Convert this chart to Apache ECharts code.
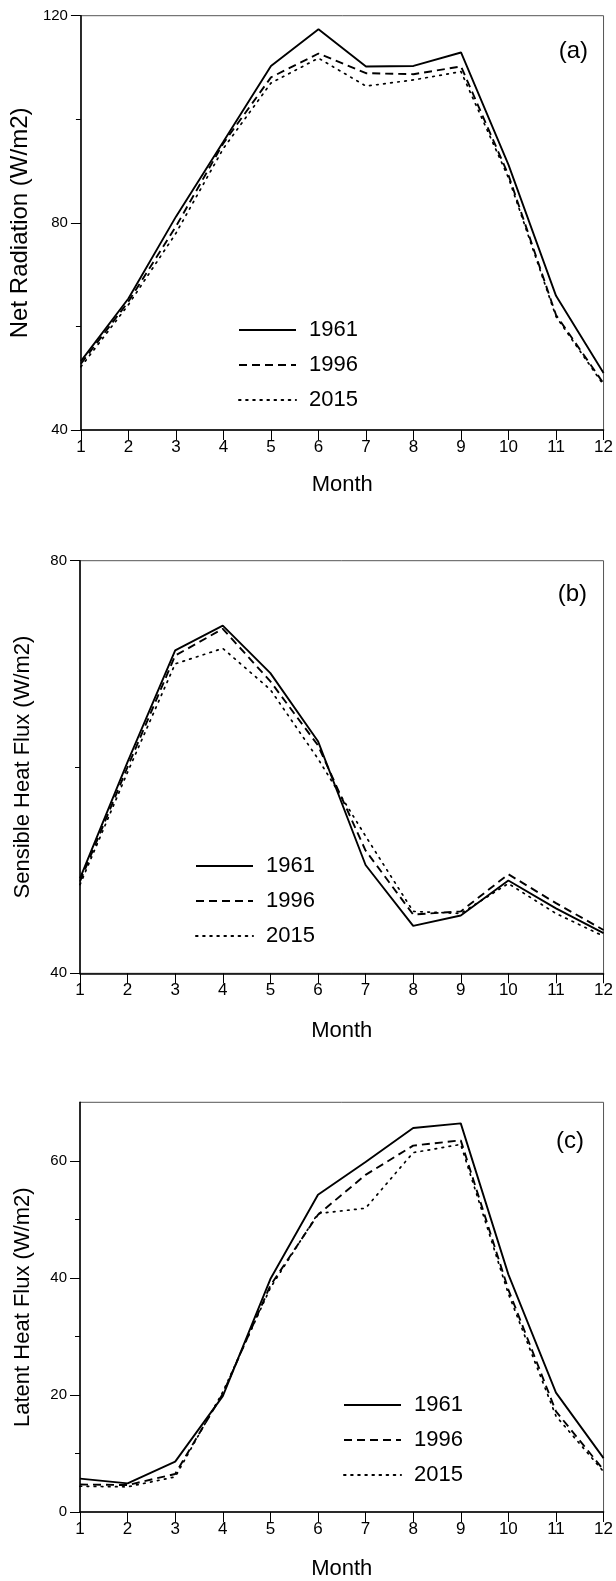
<!DOCTYPE html>
<html><head><meta charset="utf-8">
<script src="https://cdn.jsdelivr.net/npm/echarts@6/dist/echarts.min.js"></script>
<style>html,body{margin:0;padding:0;background:#fff}#c{width:616px;height:1581px}</style>
</head><body><div id="c"></div>
<script>
// ---- data ----
const months = ['1','2','3','4','5','6','7','8','9','10','11','12'];
const seriesNames = ['1961','1996','2015'];

const netRad1961 = [53.3, 65.4, 81.2, 95.7, 110.3, 117.4, 110.2, 110.3, 112.9, 91.2, 65.9, 51.0];
const netRad1996 = [52.8, 64.8, 79.3, 95.4, 108.1, 112.7, 108.9, 108.7, 110.2, 89.2, 62.2, 49.0];
const netRad2015 = [52.2, 64.2, 78.0, 94.4, 107.0, 111.8, 106.4, 107.6, 109.2, 88.7, 61.9, 48.7];

const sens1961 = [49.2, 60.5, 71.3, 73.7, 69.1, 62.5, 50.5, 44.6, 45.6, 49.0, 46.3, 43.9];
const sens1996 = [48.9, 60.0, 70.8, 73.4, 68.3, 62.1, 51.9, 45.7, 46.0, 49.6, 46.8, 44.2];
const sens2015 = [48.6, 59.5, 70.0, 71.5, 67.5, 60.8, 53.3, 46.0, 45.8, 48.7, 45.8, 43.6];

const lat1961 = [5.7, 4.9, 8.6, 19.8, 39.8, 54.2, 59.8, 65.6, 66.4, 40.6, 20.4, 9.2];
const lat1996 = [4.7, 4.6, 6.5, 20.2, 38.7, 50.8, 57.6, 62.6, 63.5, 38.0, 17.2, 7.2];
const lat2015 = [4.4, 4.3, 6.0, 20.5, 38.3, 51.0, 51.9, 61.4, 62.8, 37.3, 16.4, 6.9];

const ticksA = [40, 80, 120], minorA = [60, 100];
const ticksB = [40, 80], minorB = [60];
const ticksC = [0, 20, 40, 60], minorC = [10, 30, 50];

// ---- layout / style ----
const FONT = "'Liberation Sans', Arial, Helvetica, sans-serif";
const panels = [
  {top: 15.7, height: 414.3, min: 40, max: 120, ticks: ticksA, minor: minorA,
   name: 'Net Radiation (W/m2)', nameSize: 24, data: [netRad1961, netRad1996, netRad2015],
   xGap: 44, tag: '(a)', tagRight: 28, tagTop: 39, legLeft: 238, legTop: 319},
  {top: 560.7, height: 412.6, min: 40, max: 80, ticks: ticksB, minor: minorB,
   name: 'Sensible Heat Flux (W/m2)', nameSize: 22, data: [sens1961, sens1996, sens2015],
   xGap: 47, tag: '(b)', tagRight: 29, tagTop: 582, legLeft: 195, legTop: 855},
  {top: 1102.3, height: 414.7, min: 0, max: 70, ticks: ticksC, minor: minorC,
   name: 'Latent Heat Flux (W/m2)', nameSize: 22, data: [lat1961, lat1996, lat2015],
   xGap: 46, tag: '(c)', tagRight: 32, tagTop: 1129, legLeft: 343, legTop: 1394}
];
const lineStyles = [
  {color: '#000', width: 1.9, type: 'solid'},
  {color: '#000', width: 1.9, type: [8, 5]},
  {color: '#000', width: 1.7, type: [1.6, 5.5], cap: 'round'}
];

const option = {
  animation: false,
  backgroundColor: '#fff',
  color: ['#000', '#000', '#000'],
  textStyle: {fontFamily: FONT, color: '#000'},
  title: [], grid: [], xAxis: [], yAxis: [], legend: [], series: []
};

panels.forEach((p, i) => {
  option.grid.push({left: 80, right: 8.5, top: p.top, height: p.height,
    show: true, borderColor: '#555', borderWidth: 1, backgroundColor: 'transparent'});
  option.title.push({text: p.tag, right: p.tagRight, top: p.tagTop, padding: 0,
    textStyle: {fontFamily: FONT, fontSize: 24, fontWeight: 'normal', color: '#000'}});
  option.xAxis.push({type: 'category', gridIndex: i, data: months, boundaryGap: false,
    name: 'Month', nameLocation: 'middle', nameGap: p.xGap,
    nameTextStyle: {fontFamily: FONT, fontSize: 22, color: '#000'},
    axisLine: {lineStyle: {color: '#000', width: 1.5}},
    axisTick: {show: true, length: 10, alignWithLabel: true, interval: 0, lineStyle: {color: '#000', width: 1}},
    axisLabel: {interval: 0, margin: 9, fontSize: 17, color: '#000', fontFamily: FONT},
    splitLine: {show: false}});
  const yi = option.yAxis.length;
  option.yAxis.push({type: 'value', gridIndex: i, min: p.min, max: p.max,
    name: p.name, nameLocation: 'middle', nameGap: 46,
    nameTextStyle: {fontFamily: FONT, fontSize: p.nameSize, color: '#000'},
    axisLine: {show: true, lineStyle: {color: '#000', width: 1.5}},
    axisTick: {show: true, length: 10, customValues: p.ticks, lineStyle: {color: '#000', width: 1}},
    axisLabel: {customValues: p.ticks, margin: 13, fontSize: 15, color: '#000', fontFamily: FONT},
    splitLine: {show: false}});
  option.yAxis.push({type: 'value', gridIndex: i, min: p.min, max: p.max, position: 'left',
    axisLine: {show: false},
    axisTick: {show: true, length: 5, customValues: p.minor, lineStyle: {color: '#000', width: 1}},
    axisLabel: {show: false}, splitLine: {show: false}});
  option.legend.push({data: seriesNames, orient: 'vertical', left: p.legLeft, top: p.legTop,
    padding: 0, itemGap: 13, itemWidth: 57, itemHeight: 22, selectedMode: false,
    itemStyle: {opacity: 0},
    textStyle: {fontFamily: FONT, fontSize: 22, color: '#000', padding: [0, 0, 0, 8]}});
  seriesNames.forEach((n, k) => {
    option.series.push({type: 'line', name: n, xAxisIndex: i, yAxisIndex: yi,
      data: p.data[k], symbol: 'none', showSymbol: false, smooth: false,
      itemStyle: {color: '#000'},
      lineStyle: lineStyles[k], z: 3 - k});
  });
});

const chart = echarts.init(document.getElementById('c'), null, {renderer: 'canvas'});
chart.setOption(option);
</script>
</body></html>
